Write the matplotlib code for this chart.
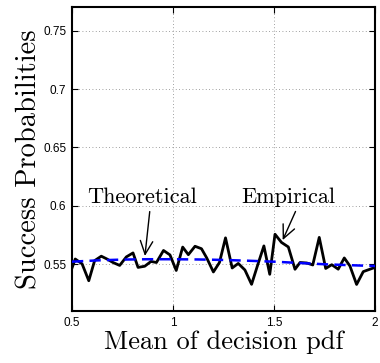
import matplotlib
matplotlib.use("Agg")
import matplotlib.pyplot as plt
from matplotlib.ticker import FixedLocator, FuncFormatter

# Empirical success probabilities
emp_x = [0.500, 0.516, 0.550, 0.583, 0.612, 0.645, 0.673, 0.703, 0.736, 0.769,
         0.802, 0.827, 0.860, 0.891, 0.918, 0.953, 0.985, 1.016, 1.048, 1.076,
         1.109, 1.141, 1.167, 1.200, 1.230, 1.260, 1.293, 1.323, 1.356, 1.389,
         1.421, 1.450, 1.479, 1.505, 1.537, 1.571, 1.604, 1.629, 1.662, 1.692,
         1.724, 1.756, 1.786, 1.818, 1.848, 1.876, 1.909, 1.942, 2.000]
emp_y = [0.5468, 0.5545, 0.5503, 0.5359, 0.5531, 0.5569, 0.5545, 0.5515, 0.5490, 0.5563,
         0.5597, 0.5473, 0.5483, 0.5524, 0.5515, 0.5618, 0.5580, 0.5447, 0.5647, 0.5582,
         0.5654, 0.5633, 0.5554, 0.5434, 0.5515, 0.5726, 0.5468, 0.5507, 0.5451, 0.5328,
         0.5503, 0.5657, 0.5414, 0.5757, 0.5687, 0.5648, 0.5457, 0.5515, 0.5511, 0.5494,
         0.5730, 0.5464, 0.5496, 0.5458, 0.5554, 0.5485, 0.5327, 0.5437, 0.5473]

# Theoretical curve
theo_x = [0.5, 0.625, 0.75, 0.875, 1.0, 1.125, 1.25, 1.375, 1.5, 1.625, 1.75, 1.875, 2.0]
theo_y = [0.5522, 0.5533, 0.5540, 0.5543, 0.5543, 0.5541, 0.5537, 0.5530, 0.5522,
          0.5511, 0.5500, 0.5492, 0.5485]

xticks = [0.5, 1, 1.5, 2]
yticks = [0.55, 0.6, 0.65, 0.7, 0.75]

fig = plt.figure(figsize=(3.8, 3.63), dpi=100)
ax = fig.add_axes([0.1895, 0.1433, 0.7973, 0.8367])

ax.plot(emp_x, emp_y, color='black', linewidth=2.0, zorder=3)
ax.plot(theo_x, theo_y, color='#0000ff', linewidth=1.8, linestyle=(0, (4.5, 2.5)), zorder=4)

ax.set_xlim(0.5, 2)
ax.set_ylim(0.51, 0.77)
ax.xaxis.set_major_locator(FixedLocator(xticks))
ax.yaxis.set_major_locator(FixedLocator(yticks))
ax.xaxis.set_major_formatter(FuncFormatter(lambda v, p: '%g' % v))
ax.yaxis.set_major_formatter(FuncFormatter(lambda v, p: '%g' % v))
ax.tick_params(direction='in', top=True, right=True, length=4, width=0.8,
               labelsize=8.5, pad=4)
for lab in ax.get_xticklabels() + ax.get_yticklabels():
    lab.set_fontfamily('Liberation Sans')
for s in ax.spines.values():
    s.set_linewidth(1.5)
ax.grid(True, linestyle=(0, (1, 3)), color='gray', linewidth=0.6)

ax.set_xlabel('Mean of decision pdf', fontfamily='cmr10', fontsize=19)
ax.set_ylabel('Success Probabilities', fontfamily='cmr10', fontsize=20.5)
ax.xaxis.set_label_coords(0.5, -0.065)
ax.yaxis.set_label_coords(-0.097, 0.5)

arrow = dict(arrowstyle='->, head_length=0.6, head_width=0.28', color='black',
             lw=1.0, shrinkA=1, shrinkB=0)
ax.annotate('Theoretical', xy=(0.861, 0.5571), xytext=(0.849, 0.607),
            fontfamily='cmr10', fontsize=16, ha='center', va='center',
            arrowprops=dict(arrow, relpos=(0.57, 0.0)))
ax.annotate('Empirical', xy=(1.543, 0.5707), xytext=(1.569, 0.607),
            fontfamily='cmr10', fontsize=16, ha='center', va='center',
            arrowprops=dict(arrow, relpos=(0.6, 0.0)))

fig.savefig('out.png', dpi=100)
